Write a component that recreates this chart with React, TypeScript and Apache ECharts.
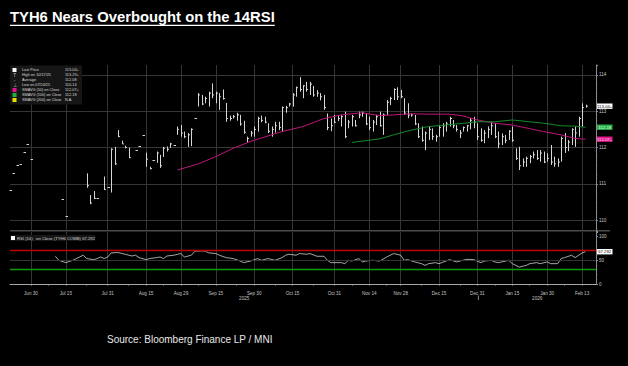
import { useEffect, useRef } from "react";
import * as echarts from "echarts";

// ---------- categories (trading days) ----------
const HOLIDAYS = ["2025-07-04", "2025-09-01", "2025-11-27", "2025-12-25", "2026-01-01", "2026-01-19", "2026-02-16"];
const START = "2025-06-20";
const END = "2026-02-20";
function buildTradingDays(start: string, end: string, holidays: string[]) {
  const out: string[] = [];
  const d = new Date(start + "T00:00:00Z");
  const e = new Date(end + "T00:00:00Z");
  while (d <= e) {
    const wd = d.getUTCDay();
    const s = d.toISOString().slice(0, 10);
    if (wd !== 0 && wd !== 6 && holidays.indexOf(s) < 0) out.push(s);
    d.setUTCDate(d.getUTCDate() + 1);
  }
  return out;
}
const dates = buildTradingDays(START, END, HOLIDAYS);
const JUN30 = 6; // index of 2025-06-30 in dates

const labelDates = [
  "2025-06-30", "2025-07-15", "2025-07-31", "2025-08-15", "2025-08-29", "2025-09-15", "2025-09-30", "2025-10-15",
  "2025-10-31", "2025-11-14", "2025-11-28", "2025-12-15", "2025-12-31", "2026-01-15", "2026-01-30", "2026-02-13",
];
const MONTHS = ["Jan", "Feb", "Mar", "Apr", "May", "Jun", "Jul", "Aug", "Sep", "Oct", "Nov", "Dec"];

// ---------- price bars (from 2025-06-20) ----------
const lows = [
  110.82, 111.31, 111.52, 111.54, 111.88, 112.1, 111.68, null, null, null,
  null, null, null, null, null, 110.58, 110.1, null, null, null,
  null, null, 110.89, 110.44, 110.58, 110.6, null, 110.83, 110.9, 110.76,
  111.52, 112.29, 112.1, 111.98, 111.71, null, 111.93, 112.04, 112.35, 111.47,
  111.4, 111.66, 111.58, 111.44, 111.74, 111.89, 111.99, 112.07, 112.35, 112.3,
  112.26, 112.02, 112.04, 112.81, 113.13, 113.17, 113.22, 113.13, 113.36, 113.22,
  113.04, 113.32, 112.71, 112.74, 112.8, 112.74, 112.6, 112.38, 112.13, 112.3,
  112.3, 112.44, 112.7, 112.67, 112.4, 112.3, 112.41, 112.48, 112.44, 112.96,
  113.13, 113.13, 113.4, 113.54, 113.36, 113.54, 113.45, 113.4, 113.4, 113.3,
  113.04, 112.48, 112.45, 112.67, 112.73, 112.58, 112.26, 112.53, 112.58, 112.58,
  112.81, 112.85, 112.62, 112.48, 112.44, 112.62, 112.58, 112.35, 112.9, 113.17,
  113.31, 113.31, 113.36, 112.9, 112.81, 112.85, 112.62, 112.26, 112.16, 111.93,
  112.21, 112.21, 112.16, 112.3, 112.3, 112.44, 112.58, 112.53, 112.44, 112.26,
  112.44, 112.44, 112.5, 112.53, 112.21, 112.16, 112.12, 112.26, 112.35, 112.26,
  111.98, 112.07, 112.12, 112.21, 112.16, 111.66, 111.38, 111.47, 111.47, 111.57,
  111.7, 111.66, 111.61, 111.57, 111.61, 111.52, 111.47, 111.47, 111.61, 111.85,
  111.9, 112.07, 112.02, 112.3, 112.58, 113.1,
];
const highs = [
  110.82, 111.31, 111.52, 111.54, 111.88, 112.1, 111.68, null, null, null,
  null, null, null, null, null, 110.58, 110.1, null, null, null,
  null, null, 111.29, 110.69, 110.8, 110.6, null, 111.2, 110.9, 111.98,
  112.02, 112.48, 112.19, 112.05, 112.0, null, 111.93, 112.04, 112.35, 111.86,
  111.47, 111.66, 111.89, 111.8, 112.02, 112.03, 112.13, 112.07, 112.58, 112.62,
  112.44, 112.4, 112.53, 112.81, 113.5, 113.45, 113.4, 113.54, 113.77, 113.54,
  113.5, 113.6, 113.23, 112.88, 112.9, 112.96, 112.9, 112.74, 112.3, 112.46,
  112.58, 112.85, 112.88, 112.85, 112.67, 112.58, 112.71, 112.71, 113.13, 113.15,
  113.23, 113.5, 113.68, 113.94, 113.72, 113.81, 113.81, 113.7, 113.58, 113.5,
  113.45, 112.94, 112.8, 112.9, 112.9, 112.9, 112.99, 112.76, 112.9, 112.76,
  112.99, 112.99, 112.94, 112.85, 112.76, 112.9, 112.99, 112.94, 113.31, 113.4,
  113.63, 113.66, 113.59, 113.36, 113.22, 112.94, 112.9, 112.67, 112.58, 112.44,
  112.58, 112.53, 112.35, 112.62, 112.67, 112.71, 112.85, 112.76, 112.62, 112.48,
  112.58, 112.62, 112.81, 112.85, 112.67, 112.53, 112.48, 112.58, 112.71, 112.67,
  112.44, 112.39, 112.35, 112.48, 112.58, 111.98, 112.02, 111.7, 111.75, 111.8,
  111.89, 111.93, 111.93, 111.89, 111.84, 112.07, 111.75, 111.7, 112.3, 112.4,
  112.21, 112.53, 112.58, 112.85, 113.22, 113.18,
];
const closes = [
  110.82, 111.31, 111.52, 111.54, 111.88, 112.1, 111.68, null, null, null,
  null, null, null, null, null, 110.58, 110.1, null, null, null,
  null, null, 110.95, 110.47, 110.6, 110.6, null, 110.85, 110.9, 111.95,
  111.55, 112.3, 112.1, 112.0, 111.72, null, 111.93, 112.04, 112.35, 111.68,
  111.42, 111.66, 111.85, 111.5, 111.98, 111.95, 112.1, 112.07, 112.5, 112.4,
  112.3, 112.35, 112.5, 112.81, 113.45, 113.2, 113.35, 113.5, 113.45, 113.5,
  113.4, 113.35, 112.8, 112.8, 112.85, 112.9, 112.65, 112.42, 112.25, 112.4,
  112.5, 112.8, 112.75, 112.7, 112.45, 112.5, 112.6, 112.55, 113.1, 113.1,
  113.2, 113.45, 113.65, 113.6, 113.7, 113.6, 113.75, 113.45, 113.5, 113.4,
  113.1, 112.55, 112.6, 112.7, 112.8, 112.85, 112.3, 112.7, 112.85, 112.6,
  112.9, 112.95, 112.65, 112.55, 112.7, 112.85, 112.6, 112.9, 113.25, 113.35,
  113.6, 113.4, 113.4, 112.95, 112.9, 112.9, 112.65, 112.3, 112.2, 112.4,
  112.5, 112.3, 112.3, 112.55, 112.6, 112.65, 112.8, 112.6, 112.5, 112.4,
  112.55, 112.6, 112.75, 112.7, 112.3, 112.2, 112.4, 112.5, 112.6, 112.3,
  112.1, 112.3, 112.2, 112.45, 112.2, 111.7, 111.5, 111.6, 111.7, 111.75,
  111.8, 111.7, 111.85, 111.6, 111.7, 111.6, 111.55, 111.6, 112.25, 112.0,
  112.15, 112.5, 112.4, 112.8, 113.1, 113.14,
];

// ---------- moving averages (trading-day offset from Jun 30, value) ----------
const sma50Day = [42, 48, 53, 58, 63, 68, 72, 78, 84, 89, 95, 100, 104, 109, 114, 120, 124, 128, 133, 138, 143, 147, 152, 156, 159];
const sma50Val = [111.38, 111.55, 111.75, 111.98, 112.17, 112.32, 112.44, 112.58, 112.8, 112.9, 112.96, 112.88, 112.9, 112.93, 112.92, 112.92, 112.87, 112.76, 112.67, 112.62, 112.52, 112.44, 112.35, 112.25, 112.23];
const sma100Day = [92, 100, 104, 109, 114, 119, 124, 128, 133, 138, 143, 147, 152, 156, 159];
const sma100Val = [112.14, 112.24, 112.35, 112.48, 112.58, 112.62, 112.67, 112.71, 112.71, 112.76, 112.71, 112.67, 112.6, 112.59, 112.56];

// ---------- RSI(14) ----------
const rsiDay = [7, 8, 10, 12, 13, 15, 16, 18, 19, 20, 21, 22, 23, 25, 27, 29, 30, 31, 33, 34, 36, 37, 38, 39, 41, 42, 43, 44, 46, 47, 49, 50, 51, 53, 54, 56, 58, 60, 61, 63, 65, 66, 68, 70, 72, 73, 74, 76, 77, 79, 80, 82, 84, 85, 86, 88, 89, 90, 91, 92, 94, 95, 96, 98, 100, 102, 103, 104, 106, 107, 108, 110, 112, 113, 114, 116, 117, 119, 120, 122, 123, 125, 127, 129, 130, 132, 133, 134, 135, 137, 138, 140, 142, 143, 145, 146, 148, 149, 151, 152, 153, 155, 156, 158, 159];
const rsiVal = [57.8, 49.4, 44.5, 49.4, 52.9, 60, 53, 50.8, 53, 56.3, 53, 56.3, 64.8, 65.6, 62, 58.4, 60, 55, 50.8, 53, 55, 56.3, 53, 58.4, 60, 62, 63.5, 56.3, 60, 68.4, 69, 68.4, 64.8, 63.5, 60, 55, 53, 47.9, 44.5, 47.9, 53, 49.4, 53, 49.4, 55, 60, 62, 60, 63.5, 62, 63.5, 57.8, 57.8, 49.4, 44.5, 44.5, 44.5, 42.4, 49.4, 47.9, 53, 46, 47.9, 49.4, 47.9, 56.3, 60, 63.5, 60, 49.4, 50.8, 46, 42.4, 38.8, 42.4, 44.5, 42.4, 47.9, 50.8, 46, 47.9, 51.5, 50.8, 44.5, 47.9, 49.4, 46, 44.5, 46, 49.4, 42.4, 35.2, 38.8, 42.4, 44.5, 42.4, 46, 42.4, 42.4, 53, 55, 60, 55, 64.8, 67.292];

const legendRows = [
  { mark: "box", color: "#ffffff", label: "Last Price", value: "113-04+" },
  { mark: "T", color: "#cccccc", label: "High on 10/17/25", value: "113-29+" },
  { mark: "-", color: "#cccccc", label: "Average", value: "112-08" },
  { mark: "⊥", color: "#cccccc", label: "Low on 07/24/25", value: "110-14" },
  { mark: "box", color: "#e0148c", label: "SMAVG (50) on Close", value: "112-07+" },
  { mark: "box", color: "#1fb43c", label: "SMAVG (100) on Close", value: "112-18" },
  { mark: "box", color: "#f0e000", label: "SMAVG (200) on Close", value: "N.A." },
];

const FONT = "Liberation Sans";
const GRID_C = "#353535";
const AXIS_C = "#8c8c8c";

export default function App() {
  const ref = useRef<HTMLDivElement>(null);
  useEffect(() => {
    const el = ref.current!;
    const chart = echarts.init(el, null, { renderer: "svg" });

    const labelSet = new Set(labelDates);
    const labelIdx = labelDates.map((d) => dates.indexOf(d));
    const tickSet = new Set<number>(labelIdx);
    for (let k = 0; k < labelIdx.length - 1; k++) tickSet.add(Math.round((labelIdx[k] + labelIdx[k + 1]) / 2));
    const isLabel = (_i: number, v: string) => labelSet.has(v);
    const isTick = (i: number) => tickSet.has(i);
    const fmt = (v: string) => {
      const d = new Date(v + "T00:00:00Z");
      return MONTHS[d.getUTCMonth()] + " " + d.getUTCDate();
    };

    const bars: any[] = [];
    for (let k = 0; k < lows.length; k++) {
      if (lows[k] != null) bars.push([k, lows[k], highs[k], closes[k]]);
    }
    const pair = (days: number[], vals: number[]) => days.map((d, j) => [d + JUN30, vals[j]]);

    const barStyle = { stroke: "#d6d6d6", lineWidth: 1 };
    const renderBar = (_p: any, api: any) => {
      const k = api.value(0);
      const lo = api.coord([k, api.value(1)]);
      const hi = api.coord([k, api.value(2)]);
      const cl = api.coord([k, api.value(3)]);
      const cx = Math.round(lo[0]) + 0.5;
      if (Math.abs(hi[1] - lo[1]) < 1) {
        const yy = Math.round(lo[1]) + 0.5;
        return { type: "line", shape: { x1: cx - 1, y1: yy, x2: cx + 1.5, y2: yy }, style: barStyle };
      }
      return {
        type: "group",
        children: [
          { type: "line", shape: { x1: cx, y1: hi[1], x2: cx, y2: lo[1] }, style: barStyle },
          { type: "line", shape: { x1: cx, y1: cl[1], x2: cx + 1.5, y2: cl[1] }, style: barStyle },
        ],
      };
    };

    const small = { fontFamily: FONT, fontSize: 4.6, color: "#c4c4c4" };

    const option: any = {
      animation: false,
      backgroundColor: "#000",
      grid: [
        { left: 10, right: 32, top: 65, height: 166 },
        { left: 10, right: 32, top: 232, height: 52 },
      ],
      xAxis: [
        {
          type: "category", gridIndex: 0, data: dates, boundaryGap: false,
          axisLine: { show: false }, axisTick: { show: false }, axisLabel: { show: false },
          splitLine: { show: true, interval: isLabel, lineStyle: { color: GRID_C, width: 1 } },
        },
        {
          type: "category", gridIndex: 1, data: dates, boundaryGap: false, offset: 3,
          axisLine: { show: true, lineStyle: { color: "#a8a8a8", width: 1 } },
          axisTick: { show: true, interval: isTick, length: 1.5, lineStyle: { color: "#a8a8a8" } },
          axisLabel: { ...small, interval: isLabel, formatter: fmt, margin: 4 },
          splitLine: { show: true, interval: isLabel, lineStyle: { color: GRID_C, width: 1 } },
        },
      ],
      yAxis: [
        {
          type: "value", gridIndex: 0, position: "right", min: 109.7, max: 114.275, splitNumber: 5,
          axisLine: { show: true, lineStyle: { color: AXIS_C, width: 1 } },
          axisTick: { show: true, length: 2, lineStyle: { color: AXIS_C } },
          minorTick: { show: true, splitNumber: 4, length: 1.2, lineStyle: { color: AXIS_C } },
          axisLabel: { ...small, margin: 3, showMinLabel: false, showMaxLabel: false },
          splitLine: { show: true, showMinLine: false, showMaxLine: false, lineStyle: { color: GRID_C, width: 1 } },
        },
        {
          type: "value", gridIndex: 1, position: "right", min: 0, max: 108.4, interval: 50,
          axisLine: { show: true, lineStyle: { color: AXIS_C, width: 1 } },
          axisTick: { show: true, length: 2, lineStyle: { color: AXIS_C } },
          minorTick: { show: true, splitNumber: 5, length: 1.2, lineStyle: { color: AXIS_C } },
          axisLabel: { ...small, margin: 3, showMaxLabel: false },
          splitLine: { show: false },
        },
      ],
      series: [
        {
          type: "custom", name: "Last Price", xAxisIndex: 0, yAxisIndex: 0,
          data: bars, encode: { x: 0, y: [1, 2, 3] }, renderItem: renderBar, silent: true,
        },
        {
          type: "line", name: "SMAVG (50)", xAxisIndex: 0, yAxisIndex: 0, data: pair(sma50Day, sma50Val),
          showSymbol: false, symbol: "none", lineStyle: { color: "#c0157a", width: 1 }, z: 3,
        },
        {
          type: "line", name: "SMAVG (100)", xAxisIndex: 0, yAxisIndex: 0, data: pair(sma100Day, sma100Val),
          showSymbol: false, symbol: "none", lineStyle: { color: "#148c2a", width: 1 }, z: 3,
        },
        {
          type: "line", name: "RSI", xAxisIndex: 1, yAxisIndex: 1, data: pair(rsiDay, rsiVal),
          showSymbol: false, symbol: "none", lineStyle: { color: "#cfcfcf", width: 0.8 }, z: 4,
          markLine: {
            silent: true, symbol: "none", label: { show: false },
            data: [
              { yAxis: 50, lineStyle: { color: GRID_C, width: 1, type: "solid" } },
              { yAxis: 70, lineStyle: { color: "#c00000", width: 1.3, type: "solid" } },
              { yAxis: 30, lineStyle: { color: "#0a9a0a", width: 1.3, type: "solid" } },
            ],
          },
        },
      ],
    };
    chart.setOption(option);

    // ---------- graphics ----------
    const toPx = (grid: number, k: number, v: number) => chart.convertToPixel({ gridIndex: grid } as any, [k, v]) as number[];
    const text = (x: number, y: number, t: string, size: number, fill: string, extra: any = {}) => ({
      type: "text", x, y, silent: true,
      style: { text: t, fill, font: `${extra.weight || "normal"} ${size}px "${FONT}"`, textAlign: extra.align || "left", align: extra.align || "left", textVerticalAlign: "middle", verticalAlign: "middle" },
    });

    const TITLE_SIZE = 14.8;
    const canvas = document.createElement("canvas");
    const ctx = canvas.getContext("2d")!;
    ctx.font = `bold ${TITLE_SIZE}px "${FONT}"`;
    const titleText = "TYH6 Nears Overbought on the 14RSI";
    const titleW = ctx.measureText(titleText).width;

    const g: any[] = [];
    g.push(text(10, 17, titleText, TITLE_SIZE, "#ffffff", { weight: "bold" }));
    g.push({ type: "rect", silent: true, shape: { x: 10, y: 24.8, width: titleW, height: 1.2 }, style: { fill: "#ffffff" } });
    g.push(text(107, 339.5, "Source: Bloomberg Finance LP / MNI", 10, "#e8e8e8"));

    // panel separator
    g.push({ type: "rect", silent: true, shape: { x: 10, y: 230, width: 600, height: 1.6 }, style: { fill: "#4a4a4a" } });

    // legend box
    g.push({ type: "rect", silent: true, shape: { x: 10, y: 65.5, width: 72, height: 39 }, style: { fill: "#161616" } });
    legendRows.forEach((r, j) => {
      const y = 70 + j * 5;
      if (r.mark === "box") g.push({ type: "rect", silent: true, shape: { x: 12.5, y: y - 2, width: 4, height: 4 }, style: { fill: r.color } });
      else g.push(text(14.5, y, r.mark, 4.5, r.color, { align: "center" }));
      g.push(text(22, y, r.label, 3.8, "#d8d8d8"));
      g.push(text(65, y, r.value, 3.8, "#d8d8d8"));
    });

    // RSI legend
    g.push({ type: "rect", silent: true, shape: { x: 10, y: 235, width: 85, height: 6 }, style: { fill: "#161616" } });
    g.push({ type: "rect", silent: true, shape: { x: 11, y: 236, width: 4, height: 4 }, style: { fill: "#ffffff" } });
    g.push(text(17, 238, "RSI (14)   on Close (TYH6 COMB) 67.292", 4.2, "#d8d8d8"));

    // right value tags
    const lastK = lows.length - 1;
    const tag = (y: number, t: string, bg: string, fg: string) => {
      g.push({ type: "rect", silent: true, shape: { x: 597, y: y - 2.7, width: 15.5, height: 5.4 }, style: { fill: bg } });
      g.push(text(604.7, y, t, 4.2, fg, { align: "center" }));
    };
    tag(toPx(0, lastK, closes[lastK] as number)[1], "113-04+", "#ffffff", "#000000");
    tag(toPx(0, lastK, sma100Val[sma100Val.length - 1])[1], "112-18", "#27b046", "#e8ffe8");
    tag(toPx(0, lastK, sma50Val[sma50Val.length - 1])[1], "112-07+", "#e0148c", "#ffe8f4");
    tag(toPx(1, lastK, rsiVal[rsiVal.length - 1])[1], "67.292", "#ffffff", "#000000");

    // year labels and divider
    const kDec31 = dates.indexOf("2025-12-31");
    const xL = toPx(1, 0, 0)[0];
    const xR = toPx(1, dates.length - 1, 0)[0];
    const xDiv = toPx(1, kDec31, 0)[0] + 1;
    g.push(text((xL + xDiv) / 2, 298.5, "2025", 4.6, "#c4c4c4", { align: "center" }));
    g.push(text((xDiv + xR) / 2, 298.5, "2026", 4.6, "#c4c4c4", { align: "center" }));
    g.push({ type: "line", silent: true, shape: { x1: xDiv, y1: 295.5, x2: xDiv, y2: 300 }, style: { stroke: "#a8a8a8", lineWidth: 0.8 } });

    chart.setOption({ graphic: { elements: g } });

    return () => chart.dispose();
  }, []);
  return <div ref={ref} style={{ position: "absolute", left: 0, top: 0, width: 628, height: 366, background: "#000" }} />;
}
